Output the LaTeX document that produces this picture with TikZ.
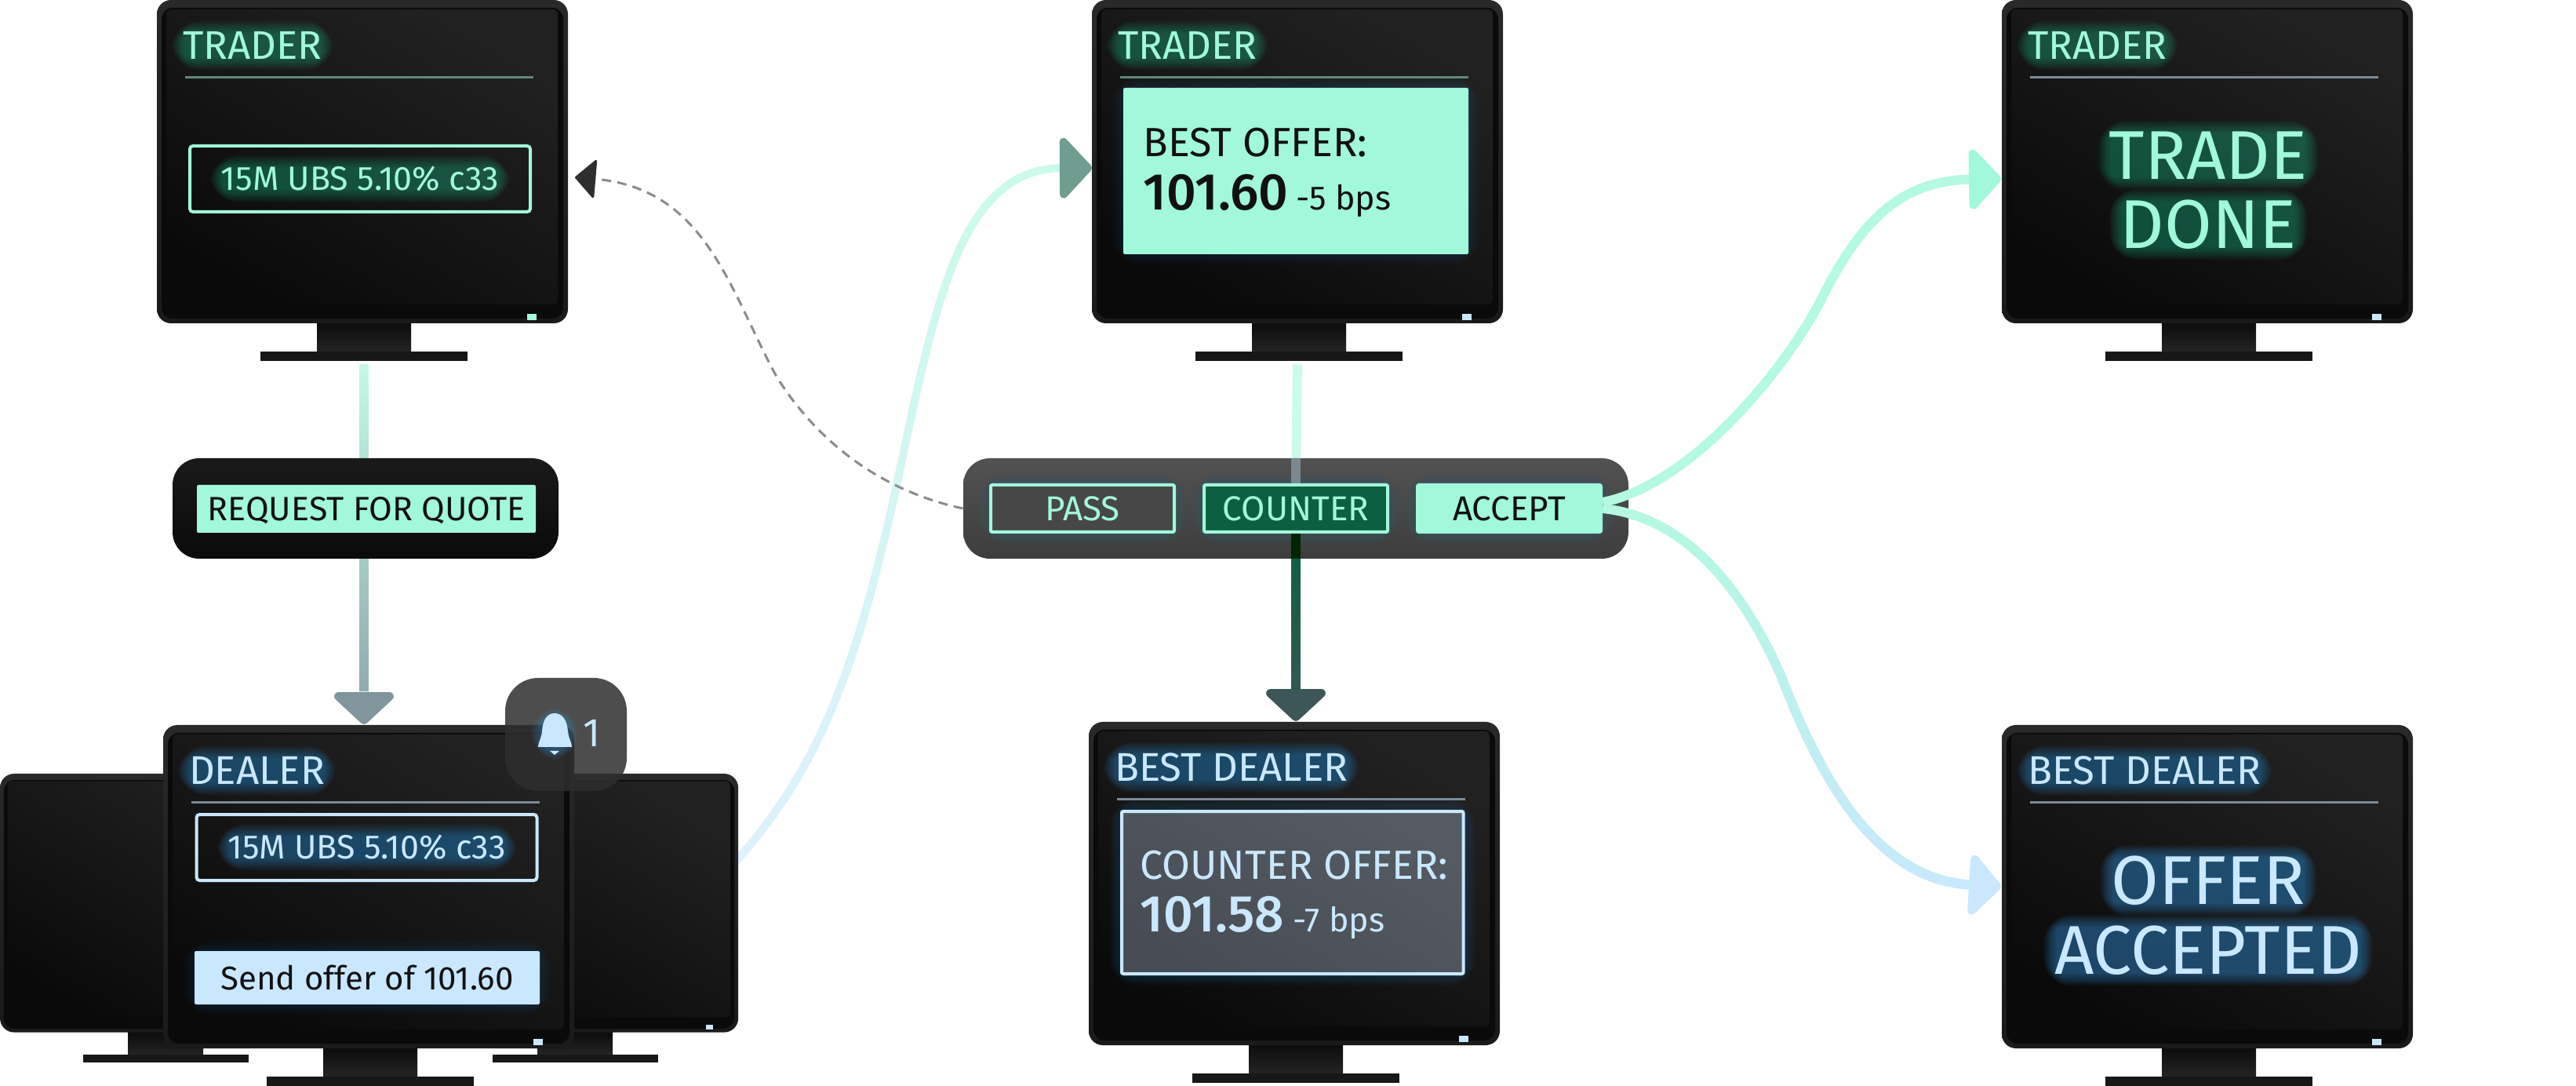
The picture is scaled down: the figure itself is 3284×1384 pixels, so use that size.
\documentclass[tikz,border=0pt]{standalone}
\usepackage{fontspec}
\setmainfont{Fira Sans}
\newfontfamily\pricefont{Fira Sans Medium}
\usetikzlibrary{arrows.meta,calc,fadings}
\definecolor{mint}{HTML}{A1F8DA}
\definecolor{ice}{HTML}{C9E8FF}
\definecolor{mintglow}{HTML}{2FC08F}
\definecolor{iceglow}{HTML}{3AA0EE}
\definecolor{ink}{HTML}{111113}
\definecolor{slateA}{HTML}{545B63}
\definecolor{slateB}{HTML}{484D55}
\definecolor{pine}{HTML}{0C6040}
\definecolor{pineGrey}{HTML}{3A5858}
\definecolor{headGrey}{HTML}{7E969C}
\definecolor{headPine}{HTML}{3D5758}
\definecolor{headSage}{HTML}{6F9D90}
\definecolor{stemGrey}{HTML}{8BA3A9}
\definecolor{rulemint}{HTML}{5F8A7E}
\definecolor{ruleice}{HTML}{7B8A98}
\pgfdeclarelayer{wires}\pgfdeclarelayer{back}\pgfdeclarelayer{halo}
\pgfsetlayers{wires,back,halo,main}
\tikzset{
  monbezel/.style={shade,top color=black!84,bottom color=black!90,rounded corners=9pt,minimum width=262pt,minimum height=206pt,inner sep=0pt},
  monbase/.style={fill=black!91,minimum width=132pt,minimum height=6pt,inner sep=0pt},
  monscreen/.style={left color=black!87,right color=black!96,shading angle=-30,rounded corners=3pt},
  panelbox/.style={shade,rounded corners=17pt,minimum height=64pt,inner sep=0pt},
  actionbtn/.style={draw=mint,line width=2pt,rounded corners=1pt,minimum width=117pt,minimum height=30pt,inner sep=0pt,text depth=0pt,font=\fontsize{22}{26}\selectfont},
  headtext/.style={anchor=base west,inner sep=0pt,font=\fontsize{25.5}{30}\selectfont},
  tickertext/.style={inner sep=0pt,font=\fontsize{21.5}{26}\selectfont},
  sendtext/.style={inner sep=0pt,font=\fontsize{21}{26}\selectfont},
  bigtext/.style={inner sep=0pt,font=\fontsize{44}{52}\selectfont},
  framebox/.style={draw,line width=2pt,rounded corners=2pt,minimum width=217pt,minimum height=42pt,inner sep=0pt},
  offerlabel/.style={anchor=base west,inner sep=0pt,font=\fontsize{26}{30}\selectfont},
  offerprice/.style={anchor=base west,inner sep=0pt,font=\pricefont\fontsize{33}{40}\selectfont},
  offerbps/.style={anchor=base west,inner sep=0pt,font=\fontsize{21.5}{24}\selectfont},
  wire/.style={line width=6pt},
  curvewire/.style={line width=5pt},
  strongwire/.style={line width=6pt},
}
% x, y in pixels of the sheet, top left origin
\newcommand{\monitor}[5]{%
  \begin{pgfonlayer}{back}
  \begin{scope}[shift={(#2,#3)},scale=#4,every node/.append style={transform shape}]
    \shade[top color=black!95,bottom color=black!86] (204,412) rectangle (324,448);
    \node[monbase] (#1base) at (264,454) {};
    \node[monbezel] (#1) at (262,206) {};
    \fill[black!96,rounded corners=7pt] (6,10) rectangle (518,406);
    \shade[monscreen] (12,12) rectangle (511,388);
    \fill[#5] (472,400) rectangle (484,408);
  \end{scope}
  \end{pgfonlayer}}
\newcommand{\halo}[3][.03]{%
  \begin{pgfonlayer}{halo}
  \foreach \g in {1,...,16}
    \fill[#3,opacity=#1,rounded corners=\g pt+2pt] ($(#2.north west)+(-\g*1.1+4,-\g*1.1+4)$) rectangle ($(#2.south east)+(\g*1.1-4,\g*1.1-4)$);
  \end{pgfonlayer}}
\newcommand{\screenhead}[5]{%
  \node[headtext,#3] (#1head) at ($(#1.north west)+(33,76)$) {#2};
  \draw[#5,line width=1.5pt] ($(#1.north west)+(36,99)$) -- ($(#1.north west)+(480,99)$);
  \halo{#1head}{#4}}
\begin{document}
\begin{tikzpicture}[x=.5pt,y=-.5pt]
  \begin{pgfonlayer}{wires}
    \fill[white] (0,0) rectangle (3284,1384);
  \end{pgfonlayer}
  \useasboundingbox (0,0) rectangle (3284,1384);
  % screens
  \monitor{traderA}{200}{0}{1}{mint}
  \monitor{traderB}{1392}{0}{1}{ice}
  \monitor{traderC}{2552}{0}{1}{ice}
  \monitor{dealerL}{0}{986}{.8}{ice}
  \monitor{dealerR}{522}{986}{.8}{ice}
  \monitor{dealerC}{208}{924}{1}{ice}
  \monitor{bestA}{1388}{920}{1}{ice}
  \monitor{bestB}{2552}{924}{1}{ice}
  \screenhead{traderA}{TRADER}{mint}{mintglow}{rulemint}
  \screenhead{traderB}{TRADER}{mint}{mintglow}{rulemint}
  \screenhead{traderC}{TRADER}{mint}{mintglow}{ruleice}
  \screenhead{dealerC}{DEALER}{ice}{iceglow}{ruleice}
  \screenhead{bestA}{BEST DEALER}{ice}{iceglow}{ruleice}
  \screenhead{bestB}{BEST DEALER}{ice}{iceglow}{ruleice}
  % screen contents
  \node[framebox,draw=mint] (rfqbox) at (459,228) {};
  \node[tickertext,mint] (rfqtext) at (rfqbox) {15M UBS 5.10\% c33};
  \halo{rfqtext}{mintglow}
  \node[framebox,draw=ice] (dealbox) at (467.5,1080) {};
  \node[tickertext,ice] (dealtext) at (dealbox) {15M UBS 5.10\% c33};
  \halo{dealtext}{iceglow}
  \node[fill=ice,rounded corners=1pt,minimum width=220pt,minimum height=34pt,inner sep=0pt,sendtext,text=ink] (sendbtn) at (468,1246) {Send offer of 101.60};
  \halo[.012]{sendbtn}{iceglow}
  \node[fill=mint,rounded corners=1pt,minimum width=220pt,minimum height=106pt,inner sep=0pt] (offerbox) at (1652,218) {};
  \halo[.012]{offerbox}{iceglow}
  \node[offerlabel,ink] (offerhead) at (1457,200) {BEST OFFER:};
  \node[offerprice,ink] (offerprice) at (1457,268) {101.60};
  \node[offerbps,ink] (offerbps) at (1652,268) {-5 bps};
  \node[shade,left color=slateA,right color=slateB,shading angle=-30,draw=ice,line width=2pt,rounded corners=1pt,minimum width=217.75pt,minimum height=103.5pt,inner sep=0pt] (counterbox) at (1647.75,1137.5) {};
  \halo[.015]{counterbox}{iceglow}
  \node[offerlabel,ice] (counterhead) at (1453,1120) {COUNTER OFFER:};
  \node[offerprice,ice] (counterprice) at (1453,1187) {101.58};
  \node[offerbps,ice] (counterbps) at (1648.5,1187) {-7 bps};
  \node[bigtext,mint] (donea) at (2815,198) {TRADE};
  \node[bigtext,mint] (doneb) at (2815,286) {DONE};
  \halo[.032]{donea}{mintglow}
  \halo[.032]{doneb}{mintglow}
  \node[bigtext,ice] (accepta) at (2815,1122) {OFFER};
  \node[bigtext,ice] (acceptb) at (2815,1211) {ACCEPTED};
  \halo[.036]{accepta}{iceglow}
  \halo[.036]{acceptb}{iceglow}
  % panels
  \begin{pgfonlayer}{back}
    \node[panelbox,top color=black!90,bottom color=black!96,minimum width=246pt] (rfqpanel) at (466,648) {};
    \node[panelbox,top color=black!68,bottom color=black!76,minimum width=424pt] (actions) at (1652,648) {};
    \fill[black!82,opacity=.85,rounded corners=21pt] (644,864) rectangle (799,1008);
  \end{pgfonlayer}
  \node[fill=mint,rounded corners=1pt,minimum width=216pt,minimum height=30.5pt,inner sep=0pt,text=ink,text depth=0pt,font=\fontsize{21.5}{26}\selectfont] (rfq) at (467,648.5) {REQUEST FOR QUOTE};
  \node[actionbtn,text=mint,fill=black!72] (pass) at (1380,648) {PASS};
  \node[actionbtn,text=mint,fill=pine] (counter) at (1652,648) {COUNTER};
  \node[actionbtn,text=ink,fill=mint] (accept) at (1924,648) {ACCEPT};
  \halo[.012]{pass}{iceglow}
  \halo[.012]{counter}{iceglow}
  \halo[.012]{accept}{iceglow}
  % bell
  \fill[ice] (707,909) .. controls (717,909) and (723,918) .. (724,932) .. controls (725,942) and (729,946) .. (729,952) -- (686,952) .. controls (686,946) and (690,942) .. (691,932) .. controls (692,918) and (697,909) .. (707,909) -- cycle;
  \fill[ice] (701,957) -- (713,957) -- (707,962) -- cycle;
  \node[inner sep=0pt,ice,font=\fontsize{25.5}{30}\selectfont] (bellcount) at (755,934) {1};
  \node[inner sep=0pt,minimum width=16pt,minimum height=20pt] (bellmark) at (707,935) {};
  \halo[.03]{bellmark}{iceglow}
  % connectors
  \coordinate (tipDealer) at (464,923);
  \coordinate (tipBest) at (1652,919);
  \coordinate (tipOffer) at (1392,214);
  \coordinate (tipPass) at (733,226);
  \coordinate (tipDone) at (2551,228);
  \coordinate (tipAccepted) at (2551,1130);
  \coordinate (offerstart) at (925,1112);
  \begin{pgfonlayer}{wires}
    \draw[wire,color=mint!60!white,-{Triangle[length=21.5pt,width=45pt,round,color=headGrey]}] (traderAbase.south) ++(0,4) -- (tipDealer);
    \draw[wire,color=stemGrey,path fading=north,shorten >=21pt] (traderAbase.south) ++(0,4) -- (tipDealer);
    \draw[wire,color=mint!55!white] (traderBbase.south) ++(-2,4) -- (counter.north);
    \draw[wire,color=pine,-{Triangle[length=21.5pt,width=45pt,round,color=headPine]}] (counter.south) -- (tipBest);
    \draw[wire,color=pineGrey,path fading=north,shorten >=21pt] (counter.south) -- (tipBest);
    \draw[curvewire,color=mint!55!white,-{Triangle[length=21.5pt,width=45pt,round,color=headSage]}] (offerstart) .. controls (1040,990) and (1090,860) .. (1141,628) .. controls (1190,400) and (1220,215) .. (tipOffer);
    \draw[curvewire,color=ice!60!white,path fading=north,shorten >=21pt] (offerstart) .. controls (1040,990) and (1090,860) .. (1141,628) .. controls (1190,400) and (1220,215) .. (tipOffer);
    \draw[black!45,line width=1.5pt,dash pattern=on 6pt off 4pt,-{Triangle[length=13.5pt,width=26pt,round,color=black!82]}] (actions.west) .. controls (1120,625) and (1040,560) .. (990,480) .. controls (930,370) and (900,240) .. (tipPass);
  \end{pgfonlayer}
  \begin{pgfonlayer}{halo}
    \draw[wire,color=black!50!cyan!30!gray] (counter.north |- actions.north) -- (counter.north);
    \draw[wire,color=black!85!green] (counter.south) -- (counter.south |- actions.south);
    \draw[strongwire,color=mint!80!white,-{Triangle[length=21.5pt,width=45pt,round,color=mint]}] ($(accept.east)+(0,-8)$) .. controls (2150,620) and (2270,480) .. (2320,385) .. controls (2370,285) and (2420,230) .. (tipDone);
    \draw[strongwire,color=mint!80!white,-{Triangle[length=21.5pt,width=45pt,round,color=ice]}] (accept.east) .. controls (2160,660) and (2230,770) .. (2270,860) .. controls (2320,990) and (2390,1120) .. (tipAccepted);
    \draw[strongwire,color=ice,path fading=north,shorten >=21pt] (accept.east) .. controls (2160,660) and (2230,770) .. (2270,860) .. controls (2320,990) and (2390,1120) .. (tipAccepted);
  \end{pgfonlayer}
\end{tikzpicture}
\end{document}
